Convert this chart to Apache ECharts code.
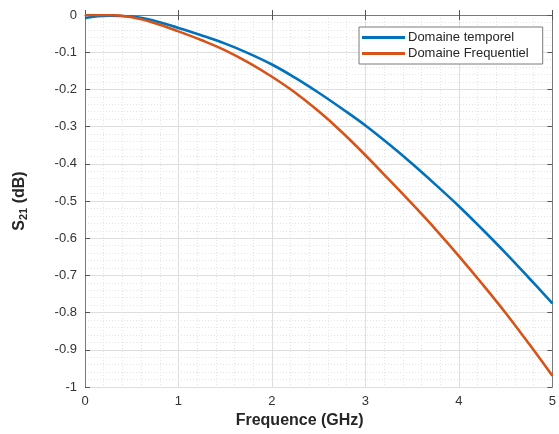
<!DOCTYPE html>
<html><head><meta charset="utf-8">
<script src="https://cdn.jsdelivr.net/npm/echarts@6/dist/echarts.min.js"></script>
<style>html,body{margin:0;padding:0;background:#fff}#c{width:559px;height:434px}</style>
</head><body><div id="c"></div>
<script>
const freq = [0,0.25,0.5,0.75,1,1.25,1.5,1.75,2,2.25,2.5,2.75,3,3.25,3.5,3.75,4,4.25,4.5,4.75,5];
const temporel = [-0.008,-0.002,-0.004,-0.016,-0.035,-0.055,-0.077,-0.103,-0.133,-0.169,-0.209,-0.252,-0.297,-0.347,-0.400,-0.456,-0.514,-0.576,-0.640,-0.707,-0.775];
const frequentiel = [0.0,0.0,-0.006,-0.022,-0.044,-0.068,-0.095,-0.128,-0.166,-0.209,-0.259,-0.315,-0.377,-0.442,-0.508,-0.576,-0.648,-0.723,-0.801,-0.884,-0.970];
const seriesNames = ['Domaine temporel','Domaine Frequentiel'];
const xTicks = [0,1,2,3,4,5];
const yTicks = [0,-0.1,-0.2,-0.3,-0.4,-0.5,-0.6,-0.7,-0.8,-0.9,-1];

const font = 'Liberation Sans, Arial, sans-serif';
const chart = echarts.init(document.getElementById('c'));
const pairs = ys => freq.map((x,i)=>[x, ys[i]]);
const minorLine = {show:true, lineStyle:{color:'#e4e4e4', type:[1,2], width:1}};
chart.setOption({
  animation:false,
  backgroundColor:'#fff',
  grid:{left:85, right:2, top:15, bottom:47},
  legend:{
    orient:'vertical', left:359, top:27, padding:[4,14,4,3],
    itemWidth:43, itemHeight:3, itemGap:3,
    backgroundColor:'#fff', borderColor:'#7a7a7a', borderWidth:1,
    icon:'rect',
    textStyle:{fontFamily:font, fontSize:13, color:'#262626', padding:[0,0,0,-2]},
    data:seriesNames
  },
  xAxis:[{
    type:'value', min:0, max:5, interval:1,
    name:'Frequence (GHz)', nameLocation:'middle', nameGap:26,
    nameTextStyle:{fontFamily:font, fontSize:16, fontWeight:'bold', color:'#262626', padding:[0,38,0,0]},
    axisLine:{show:true, lineStyle:{color:'#7a7a7a', width:1}},
    axisTick:{show:true, inside:true, length:5, lineStyle:{color:'#555'}},
    axisLabel:{fontFamily:font, fontSize:13, color:'#333', margin:8,
      formatter:v=>String(xTicks.find(t=>Math.abs(t-v)<1e-9) ?? v)},
    splitLine:{show:true, lineStyle:{color:'#dedede', width:1}},
    minorTick:{show:false, splitNumber:5},
    minorSplitLine:minorLine
  },{
    type:'value', position:'top', min:0, max:5, interval:1,
    axisLine:{show:true, onZero:false, lineStyle:{color:'#7a7a7a'}},
    axisTick:{show:true, inside:true, length:5, lineStyle:{color:'#555'}},
    axisLabel:{show:false}, splitLine:{show:false}
  }],
  yAxis:[{
    type:'value', min:-1, max:0, interval:0.1,
    name:'{b|S}{s|21}{b| (dB)}', nameLocation:'middle', nameGap:56, nameRotate:90,
    nameTextStyle:{rich:{
      b:{fontFamily:font, fontSize:16, fontWeight:'bold', color:'#262626'},
      s:{fontFamily:font, fontSize:11, fontWeight:'bold', color:'#262626', verticalAlign:'bottom', padding:[8,0,0,0]}
    }},
    axisLine:{show:true, onZero:false, lineStyle:{color:'#7a7a7a', width:1}},
    axisTick:{show:true, inside:true, length:5, lineStyle:{color:'#555'}},
    axisLabel:{fontFamily:font, fontSize:13, color:'#333', margin:8,
      formatter:v=>{const t=yTicks.find(t=>Math.abs(t-v)<1e-9); return t===undefined?'':String(t);}},
    splitLine:{show:true, lineStyle:{color:'#dedede', width:1}},
    minorTick:{show:false, splitNumber:5},
    minorSplitLine:minorLine
  },{
    type:'value', position:'right', min:-1, max:0, interval:0.1,
    axisLine:{show:true, onZero:false, lineStyle:{color:'#7a7a7a'}},
    axisTick:{show:true, inside:true, length:5, lineStyle:{color:'#555'}},
    axisLabel:{show:false}, splitLine:{show:false}
  }],
  series:[
    {name:seriesNames[0], type:'line', smooth:0.4, showSymbol:false, data:pairs(temporel),
     lineStyle:{color:'#0072BD', width:2.6}, itemStyle:{color:'#0072BD'}},
    {name:seriesNames[1], type:'line', smooth:0.4, showSymbol:false, data:pairs(frequentiel),
     lineStyle:{color:'#D95319', width:2.6}, itemStyle:{color:'#D95319'}}
  ]
});
</script></body></html>
